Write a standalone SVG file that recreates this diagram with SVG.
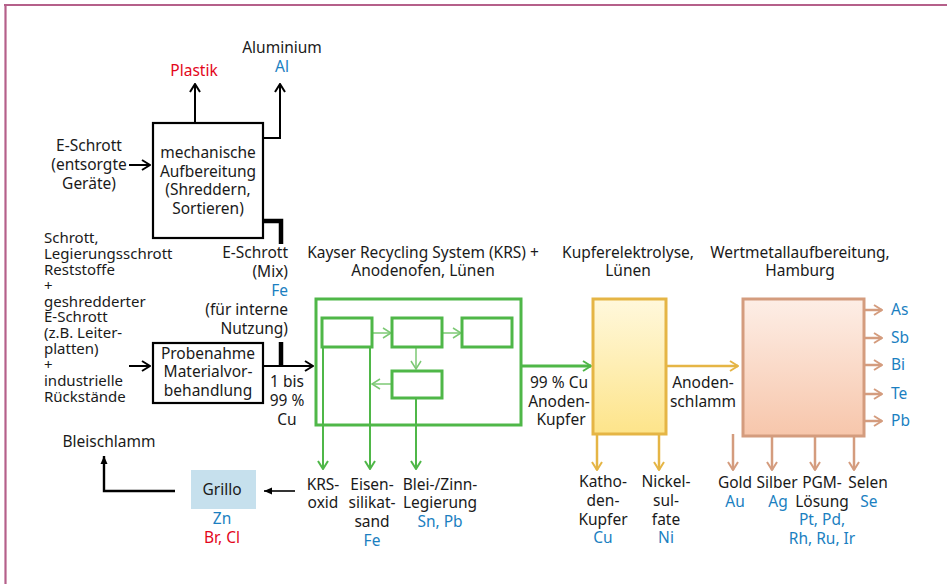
<svg xmlns="http://www.w3.org/2000/svg" width="947" height="584" viewBox="0 0 947 584">
<style>
text{font-family:"Noto Sans","Liberation Sans",Arial,sans-serif;font-size:15.5px;fill:#1a1a1a}
.sm{font-size:15px}
.c{text-anchor:middle}
.e{text-anchor:end}
.b{fill:#1b7fc1}
.r{fill:#e3061b}
.k{fill:none;stroke:#000;stroke-width:2}
.g{fill:none;stroke:#4fb748;stroke-width:3}
.gl{fill:none;stroke:#4fb748;stroke-width:2}
.y{fill:none;stroke:#e5b545;stroke-width:2.5}
.s{fill:none;stroke:#d49c7e;stroke-width:2.5}
</style>
<defs>
<marker id="mk" viewBox="0 0 10 12" refX="9" refY="6" markerWidth="10" markerHeight="12" orient="auto" markerUnits="userSpaceOnUse"><path d="M1,1 L9,6 L1,11" fill="none" stroke="#000" stroke-width="2"/></marker>
<marker id="mg" viewBox="0 0 10 12" refX="9" refY="6" markerWidth="10" markerHeight="12" orient="auto" markerUnits="userSpaceOnUse"><path d="M1,1 L9,6 L1,11" fill="none" stroke="#4fb748" stroke-width="2"/></marker>
<marker id="mgl" viewBox="0 0 10 12" refX="9" refY="6" markerWidth="10" markerHeight="12" orient="auto" markerUnits="userSpaceOnUse"><path d="M1,1 L9,6 L1,11" fill="none" stroke="#7cc874" stroke-width="1.5"/></marker>
<marker id="my" viewBox="0 0 10 12" refX="9" refY="6" markerWidth="10" markerHeight="12" orient="auto" markerUnits="userSpaceOnUse"><path d="M1,1 L9,6 L1,11" fill="none" stroke="#e5b545" stroke-width="2"/></marker>
<marker id="ms" viewBox="0 0 10 12" refX="9" refY="6" markerWidth="10" markerHeight="12" orient="auto" markerUnits="userSpaceOnUse"><path d="M1,1 L9,6 L1,11" fill="none" stroke="#d49c7e" stroke-width="2"/></marker>
<marker id="mf" viewBox="0 0 8 8" refX="8" refY="4" markerWidth="8" markerHeight="8" orient="auto" markerUnits="userSpaceOnUse"><path d="M0,0.5 L8,4 L0,7.5 Z" fill="#000"/></marker>
<linearGradient id="gy" x1="0" y1="0" x2="0" y2="1"><stop offset="0" stop-color="#fff8dc"/><stop offset="1" stop-color="#fde48a"/></linearGradient>
<linearGradient id="gs" x1="0" y1="0" x2="0" y2="1"><stop offset="0" stop-color="#fdeee6"/><stop offset="1" stop-color="#f7c6ab"/></linearGradient>
</defs>

<g id="frame">
<line x1="4" y1="5" x2="947" y2="5" stroke="#b5608a" stroke-width="2.2"/>
<line x1="5.5" y1="4" x2="5.5" y2="584" stroke="#b5608a" stroke-width="2.2"/>
</g>

<g id="connectors">
<line class="k" x1="195" y1="123" x2="195" y2="84" marker-end="url(#mk)"/>
<polyline class="k" points="263,138 280,138 280,84" marker-end="url(#mk)"/>
<line class="k" x1="129" y1="165" x2="150" y2="165" marker-end="url(#mk)"/>
<polyline fill="none" stroke="#000" stroke-width="4.5" points="263,221 281,221 281,244"/>
<line stroke="#000" stroke-width="4.5" x1="281" y1="342" x2="281" y2="366"/>
<line class="k" x1="129" y1="366" x2="150" y2="366" marker-end="url(#mk)"/>
<line class="k" x1="263" y1="366" x2="313" y2="366" marker-end="url(#mk)"/>
<line stroke="#000" stroke-width="1.6" x1="295" y1="491" x2="264" y2="491" marker-end="url(#mf)"/>
<polyline fill="none" stroke="#000" stroke-width="2.4" points="175,491 104,491 104,456" marker-end="url(#mf)"/>
<line fill="none" stroke="#7cc874" stroke-width="1.5" x1="372" y1="333" x2="391" y2="333" marker-end="url(#mgl)"/>
<line fill="none" stroke="#7cc874" stroke-width="1.5" x1="442" y1="333" x2="461" y2="333" marker-end="url(#mgl)"/>
<line fill="none" stroke="#7cc874" stroke-width="1.5" x1="416" y1="347" x2="416" y2="369" marker-end="url(#mgl)"/>
<line fill="none" stroke="#7cc874" stroke-width="1.5" x1="392" y1="384" x2="372" y2="384" marker-end="url(#mgl)"/>
<line class="gl" x1="323" y1="347" x2="323" y2="469" marker-end="url(#mg)"/>
<line class="gl" x1="370" y1="347" x2="370" y2="469" marker-end="url(#mg)"/>
<line class="gl" x1="416" y1="398" x2="416" y2="469" marker-end="url(#mg)"/>
<line class="g" x1="521" y1="366" x2="591" y2="366" stroke-width="2.5" marker-end="url(#mg)"/>
<line class="y" x1="666" y1="366" x2="738" y2="366" marker-end="url(#my)"/>
<line class="y" x1="597" y1="434" x2="597" y2="470" marker-end="url(#my)"/>
<line class="y" x1="659" y1="434" x2="659" y2="470" marker-end="url(#my)"/>
<line class="s" x1="864" y1="310" x2="882" y2="310" marker-end="url(#ms)"/>
<line class="s" x1="864" y1="338" x2="882" y2="338" marker-end="url(#ms)"/>
<line class="s" x1="864" y1="365" x2="882" y2="365" marker-end="url(#ms)"/>
<line class="s" x1="864" y1="394" x2="882" y2="394" marker-end="url(#ms)"/>
<line class="s" x1="864" y1="421" x2="882" y2="421" marker-end="url(#ms)"/>
<line class="s" x1="733" y1="434" x2="733" y2="470" marker-end="url(#ms)"/>
<line class="s" x1="772" y1="436" x2="772" y2="470" marker-end="url(#ms)"/>
<line class="s" x1="815" y1="436" x2="815" y2="470" marker-end="url(#ms)"/>
<line class="s" x1="854" y1="436" x2="854" y2="470" marker-end="url(#ms)"/>
</g>

<g id="mech">
<rect x="153" y="123" width="110" height="115" fill="#fff" stroke="#000" stroke-width="2.2"/>
<text class="c"><tspan x="208" y="158">mechanische</tspan><tspan x="208" y="177">Aufbereitung</tspan><tspan x="208" y="195">(Shreddern,</tspan><tspan x="208" y="214">Sortieren)</tspan></text>
</g>
<g id="plastik"><text class="c r" x="194" y="76">Plastik</text></g>
<g id="aluminium"><text class="c"><tspan x="282" y="53">Aluminium</tspan><tspan x="282" y="72" class="b">Al</tspan></text></g>
<g id="eschrott-in"><text class="c"><tspan x="89" y="151">E-Schrott</tspan><tspan x="89" y="170">(entsorgte</tspan><tspan x="89" y="189">Geräte)</tspan></text></g>
<g id="schrott-in"><text class="sm"><tspan x="44" y="243">Schrott,</tspan><tspan x="44" y="259">Legierungsschrott</tspan><tspan x="44" y="275">Reststoffe</tspan><tspan x="44" y="291">+</tspan><tspan x="44" y="307">geshredderter</tspan><tspan x="44" y="322">E-Schrott</tspan><tspan x="44" y="338">(z.B. Leiter-</tspan><tspan x="44" y="354">platten)</tspan><tspan x="44" y="370">+</tspan><tspan x="44" y="386">industrielle</tspan><tspan x="44" y="402">Rückstände</tspan></text></g>
<g id="eschrott-mix"><text class="e"><tspan x="288" y="258">E-Schrott</tspan><tspan x="288" y="277">(Mix)</tspan><tspan x="288" y="296" class="b">Fe</tspan><tspan x="288" y="315">(für interne</tspan><tspan x="288" y="334">Nutzung)</tspan></text></g>
<g id="probenahme">
<rect x="153" y="343" width="110" height="60" fill="#fff" stroke="#000" stroke-width="2.2"/>
<text class="c"><tspan x="208" y="359">Probenahme</tspan><tspan x="208" y="377">Materialvor-</tspan><tspan x="208" y="396">behandlung</tspan></text>
</g>
<g id="cu-label"><text class="c"><tspan x="287" y="387">1 bis</tspan><tspan x="287" y="406">99 %</tspan><tspan x="287" y="425">Cu</tspan></text></g>

<g id="krs">
<text class="c"><tspan x="423" y="258">Kayser Recycling System (KRS) +</tspan><tspan x="423" y="276">Anodenofen, Lünen</tspan></text>
<rect x="316" y="299" width="205" height="126" class="g"/>
<rect x="322" y="318" width="50" height="29" class="g"/>
<rect x="392" y="318" width="50" height="29" class="g"/>
<rect x="462" y="318" width="50" height="29" class="g"/>
<rect x="392" y="371" width="50" height="27" class="g"/>
</g>
<g id="krs-oxid"><text class="c"><tspan x="323" y="490">KRS-</tspan><tspan x="323" y="508">oxid</tspan></text></g>
<g id="eisensilikat"><text class="c"><tspan x="372" y="490">Eisen-</tspan><tspan x="372" y="508">silikat-</tspan><tspan x="372" y="527">sand</tspan><tspan x="372" y="546" class="b">Fe</tspan></text></g>
<g id="bleizinn"><text class="c"><tspan x="440" y="490">Blei-/Zinn-</tspan><tspan x="440" y="508">Legierung</tspan><tspan x="440" y="527" class="b">Sn, Pb</tspan></text></g>

<g id="grillo">
<rect x="191" y="470" width="65" height="39" fill="#c6e0ed"/>
<text class="c" x="222" y="495">Grillo</text>
<text class="c"><tspan x="222" y="524" class="b">Zn</tspan><tspan x="222" y="543" class="r">Br, Cl</tspan></text>
</g>
<g id="bleischlamm"><text class="c" x="109" y="447">Bleischlamm</text></g>

<g id="anodenkupfer"><text class="c"><tspan x="559" y="388">99 % Cu</tspan><tspan x="559" y="407">Anoden-</tspan><tspan x="561" y="425">Kupfer</tspan></text></g>

<g id="kupferelektrolyse">
<text class="c"><tspan x="628" y="258">Kupferelektrolyse,</tspan><tspan x="628" y="276">Lünen</tspan></text>
<rect x="593" y="299" width="73" height="135" fill="url(#gy)" stroke="#e5b545" stroke-width="3"/>
</g>
<g id="kathodenkupfer"><text class="c"><tspan x="603" y="487">Katho-</tspan><tspan x="603" y="506">den-</tspan><tspan x="603" y="525">Kupfer</tspan><tspan x="603" y="543" class="b">Cu</tspan></text></g>
<g id="nickelsulfate"><text class="c"><tspan x="666" y="487">Nickel-</tspan><tspan x="666" y="506">sul-</tspan><tspan x="666" y="525">fate</tspan><tspan x="666" y="543" class="b">Ni</tspan></text></g>
<g id="anodenschlamm"><text class="c"><tspan x="703" y="388">Anoden-</tspan><tspan x="703" y="407">schlamm</tspan></text></g>

<g id="wertmetall">
<text class="c"><tspan x="800" y="258">Wertmetallaufbereitung,</tspan><tspan x="800" y="276">Hamburg</tspan></text>
<rect x="743" y="299" width="121" height="137" fill="url(#gs)" stroke="#d49c7e" stroke-width="3"/>
</g>
<g id="right-outputs">
<text class="b" x="891" y="315">As</text>
<text class="b" x="891" y="343">Sb</text>
<text class="b" x="891" y="370">Bi</text>
<text class="b" x="891" y="399">Te</text>
<text class="b" x="891" y="426">Pb</text>
</g>
<g id="gold"><text class="c"><tspan x="735" y="488">Gold</tspan><tspan x="735" y="507" class="b">Au</tspan></text></g>
<g id="silber"><text class="c"><tspan x="777" y="488">Silber</tspan><tspan x="778" y="507" class="b">Ag</tspan></text></g>
<g id="pgm"><text class="c"><tspan x="822" y="488">PGM-</tspan><tspan x="822" y="507">Lösung</tspan><tspan x="822" y="525" class="b">Pt, Pd,</tspan><tspan x="822" y="544" class="b">Rh, Ru, Ir</tspan></text></g>
<g id="selen"><text class="c"><tspan x="868" y="488">Selen</tspan><tspan x="869" y="507" class="b">Se</tspan></text></g>
</svg>
